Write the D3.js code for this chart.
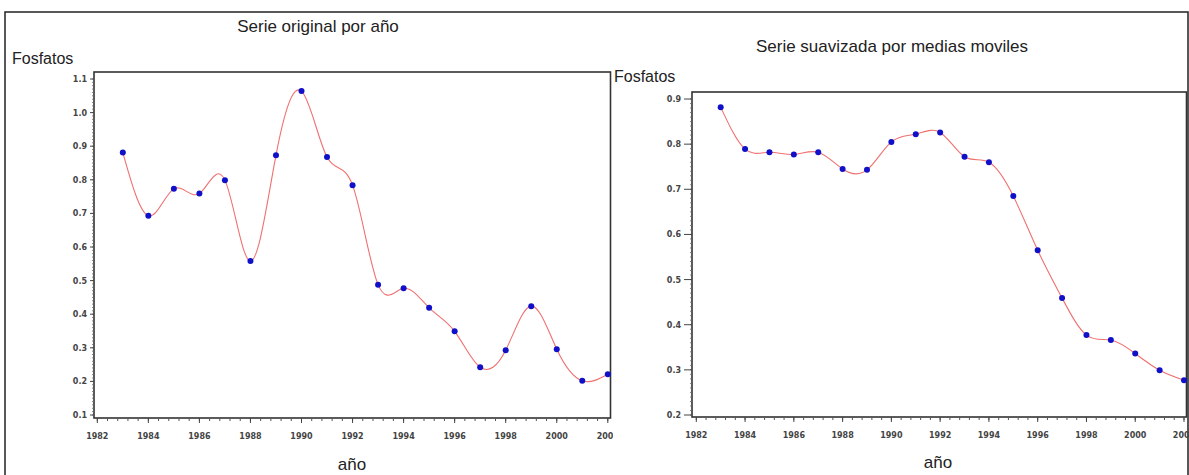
<!DOCTYPE html>
<html>
<head>
<meta charset="utf-8">
<script src="https://cdn.jsdelivr.net/npm/d3@7"></script>
<style>
  body { margin: 0; background: #fff; }
  svg { display: block; }
</style>
</head>
<body>
<div id="chart"></div>
<script>
// data
const years = [1983, 1984, 1985, 1986, 1987, 1988, 1989, 1990, 1991, 1992,
               1993, 1994, 1995, 1996, 1997, 1998, 1999, 2000, 2001, 2002];
const original = [0.881, 0.693, 0.773, 0.759, 0.799, 0.558, 0.873, 1.064, 0.868, 0.784,
                  0.488, 0.477, 0.419, 0.349, 0.242, 0.293, 0.424, 0.296, 0.202, 0.221];
const suavizada = [0.882, 0.789, 0.782, 0.777, 0.782, 0.745, 0.743, 0.805, 0.822, 0.826,
                   0.772, 0.760, 0.685, 0.565, 0.459, 0.377, 0.366, 0.336, 0.299, 0.277];
const xTicks = [1982, 1984, 1986, 1988, 1990, 1992, 1994, 1996, 1998, 2000, 2002];
const yTicksLeft = [0.1, 0.2, 0.3, 0.4, 0.5, 0.6, 0.7, 0.8, 0.9, 1.0, 1.1];
const yTicksRight = [0.2, 0.3, 0.4, 0.5, 0.6, 0.7, 0.8, 0.9];

const width = 1189, height = 475;
const svg = d3.select("#chart").append("svg")
    .attr("width", width).attr("height", height);

// outer border
svg.append("path")
    .attr("d", `M5,${height} V12 H${width - 1} V${height}`)
    .attr("fill", "none").attr("stroke", "#222").attr("stroke-width", 1.5);

const defs = svg.append("defs");

function panel(cfg) {
    const clipId = "clip" + cfg.id;
    defs.append("clipPath").attr("id", clipId)
        .append("rect").attr("x", cfg.clip[0]).attr("y", 0)
        .attr("width", cfg.clip[1] - cfg.clip[0]).attr("height", height);

    const g = svg.append("g").attr("clip-path", `url(#${clipId})`);

    const x = d3.scaleLinear().domain([1982, 2002]).range(cfg.xr);
    const y = d3.scaleLinear().domain(cfg.yd).range(cfg.yr);

    // title + axis labels
    g.append("text")
        .attr("x", cfg.title[0]).attr("y", cfg.title[1])
        .attr("text-anchor", "middle")
        .style("font", "17px 'Liberation Sans', Arial, sans-serif")
        .attr("fill", "#222")
        .text(cfg.titleText);

    g.append("text")
        .attr("x", cfg.ylab[0]).attr("y", cfg.ylab[1])
        .style("font", "16px 'Liberation Sans', Arial, sans-serif")
        .attr("fill", "#222")
        .text("Fosfatos");

    g.append("text")
        .attr("x", cfg.xlab[0]).attr("y", cfg.xlab[1])
        .attr("text-anchor", "middle")
        .style("font", "17px 'Liberation Sans', Arial, sans-serif")
        .attr("fill", "#222")
        .text("año");

    // frame
    g.append("rect")
        .attr("x", cfg.frame.l).attr("y", cfg.frame.t)
        .attr("width", cfg.frame.r - cfg.frame.l)
        .attr("height", cfg.frame.b - cfg.frame.t)
        .attr("fill", "none").attr("stroke", "#333").attr("stroke-width", 1.6);

    // x axis
    const xMinor = d3.range(1982, 2002.01, 0.4);
    const xAxis = g.append("g").attr("transform", `translate(0,${cfg.frame.b})`);
    xAxis.selectAll("line.minor").data(xMinor).join("line")
        .attr("x1", d => x(d)).attr("x2", d => x(d))
        .attr("y1", 0).attr("y2", 3)
        .attr("stroke", "#555").attr("stroke-width", 1);
    xAxis.selectAll("line.major").data(xTicks).join("line")
        .attr("x1", d => x(d)).attr("x2", d => x(d))
        .attr("y1", 0).attr("y2", 5)
        .attr("stroke", "#444").attr("stroke-width", 1);
    xAxis.selectAll("text").data(xTicks).join("text")
        .attr("x", d => x(d)).attr("y", cfg.xTickY - cfg.frame.b)
        .attr("text-anchor", "middle")
        .style("font", "bold 8px 'DejaVu Sans', sans-serif")
        .attr("fill", "#444")
        .text(d => d);

    // y axis
    const yMinor = d3.range(cfg.yd[0], cfg.yd[1] + 0.001, 0.01);
    const yAxis = g.append("g").attr("transform", `translate(${cfg.frame.l},0)`);
    yAxis.selectAll("line.minor").data(yMinor).join("line")
        .attr("x1", -2).attr("x2", 0)
        .attr("y1", d => y(d)).attr("y2", d => y(d))
        .attr("stroke", "#666").attr("stroke-width", 0.8);
    yAxis.selectAll("line.major").data(cfg.yTicks).join("line")
        .attr("x1", -cfg.tickLen).attr("x2", 0)
        .attr("y1", d => y(d)).attr("y2", d => y(d))
        .attr("stroke", "#444").attr("stroke-width", 1);
    yAxis.selectAll("text").data(cfg.yTicks).join("text")
        .attr("x", -cfg.tickLen - 3).attr("y", d => y(d) + 3)
        .attr("text-anchor", "end")
        .style("font", "bold 8px 'DejaVu Sans', sans-serif")
        .attr("fill", "#444")
        .text(d => d3.format(".1f")(d));

    // spline + markers
    const pts = years.map((yr, i) => [yr, cfg.values[i]]);
    const line = d3.line()
        .x(d => x(d[0])).y(d => y(d[1]))
        .curve(d3.curveNatural);
    g.append("path")
        .datum(pts)
        .attr("d", line)
        .attr("fill", "none")
        .attr("stroke", "#f07070")
        .attr("stroke-width", 1.1);
    g.selectAll("circle.pt").data(pts).join("circle")
        .attr("cx", d => x(d[0])).attr("cy", d => y(d[1]))
        .attr("r", 3)
        .attr("fill", "#1010c8");
}

panel({
    id: "L",
    clip: [0, 613],
    xr: [97.3, 607.8],
    yd: [0.1, 1.1], yr: [415, 79],
    yTicks: yTicksLeft,
    tickLen: 4,
    frame: { l: 94, r: 610.5, t: 72, b: 418 },
    values: original,
    titleText: "Serie original por año",
    title: [318, 32],
    ylab: [12, 64],
    xlab: [352, 470],
    xTickY: 439
});

panel({
    id: "R",
    clip: [612, width],
    xr: [696.3, 1184],
    yd: [0.2, 0.9], yr: [415, 99],
    yTicks: yTicksRight,
    tickLen: 8,
    frame: { l: 692, r: 1186.5, t: 92, b: 417 },
    values: suavizada,
    titleText: "Serie suavizada por medias moviles",
    title: [892, 52],
    ylab: [614, 82],
    xlab: [938, 468],
    xTickY: 438
});
</script>
</body>
</html>
